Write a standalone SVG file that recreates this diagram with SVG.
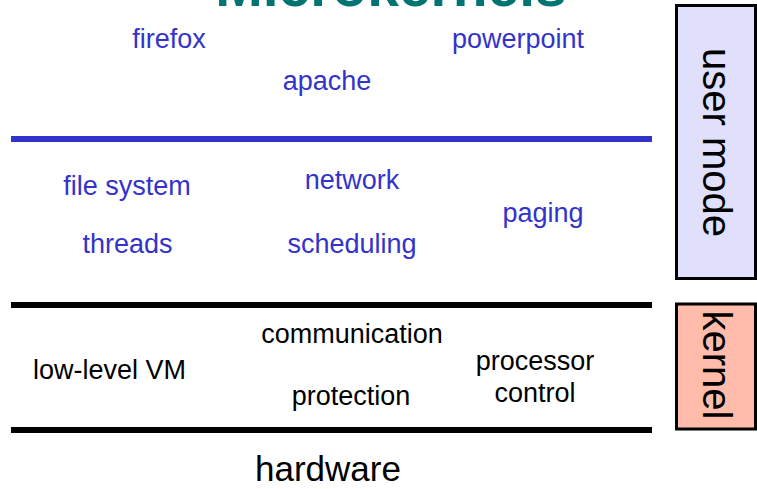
<svg xmlns="http://www.w3.org/2000/svg" width="757" height="489" viewBox="0 0 757 489">
  <style>
    text { font-family: "Liberation Sans", Arial, sans-serif; }
    .svc { font-size: 27px; fill: #3333cc; text-anchor: middle; }
    .krn { font-size: 27px; fill: #000000; text-anchor: middle; }
    .mode { font-size: 40px; fill: #000000; text-anchor: middle; }
    .bar { stroke-width: 6; fill: none; }
    .box { stroke: #000000; stroke-width: 3; }
  </style>
  <rect width="757" height="489" fill="#ffffff"/>

  <!-- slide title, partly above the top edge -->
  <text id="title" x="391" y="6" font-size="57" font-weight="bold" fill="#007373" text-anchor="middle">Microkernels</text>

  <!-- layer dividers -->
  <g id="dividers">
    <line class="bar" x1="11" y1="139" x2="652" y2="139" stroke="#3333cc"/>
    <line class="bar" x1="11" y1="305" x2="652" y2="305" stroke="#000000"/>
    <line class="bar" x1="11" y1="430" x2="652" y2="430" stroke="#000000"/>
  </g>

  <!-- applications -->
  <g id="applications">
    <text id="firefox" class="svc" x="169" y="48">firefox</text>
    <text id="powerpoint" class="svc" x="518" y="48">powerpoint</text>
    <text id="apache" class="svc" x="327" y="90">apache</text>
  </g>

  <!-- user-level servers -->
  <g id="servers">
    <text id="file-system" class="svc" x="127" y="195">file system</text>
    <text id="network" class="svc" x="352" y="189">network</text>
    <text id="paging" class="svc" x="543" y="222">paging</text>
    <text id="threads" class="svc" x="127.5" y="252.5">threads</text>
    <text id="scheduling" class="svc" x="352" y="252.5">scheduling</text>
  </g>

  <!-- kernel services -->
  <g id="kernel-services">
    <text id="low-level-vm" class="krn" x="109.5" y="379">low-level VM</text>
    <text id="communication" class="krn" x="352" y="343">communication</text>
    <text id="protection" class="krn" x="351" y="405">protection</text>
    <text id="processor-control" class="krn" x="535" y="370">processor<tspan x="535" y="401.5">control</tspan></text>
  </g>

  <text id="hardware" x="328" y="481" font-size="35" text-anchor="middle" fill="#000000">hardware</text>

  <!-- privilege side labels -->
  <g id="user-mode">
    <rect class="box" x="676.5" y="5.5" width="79" height="273" fill="#e0e0fc"/>
    <text class="mode" transform="translate(703 142.5) rotate(90)">user mode</text>
  </g>
  <g id="kernel">
    <rect class="box" x="676.5" y="304" width="79" height="125" fill="#ffbcab"/>
    <text class="mode" transform="translate(703 365) rotate(90)">kernel</text>
  </g>
</svg>
